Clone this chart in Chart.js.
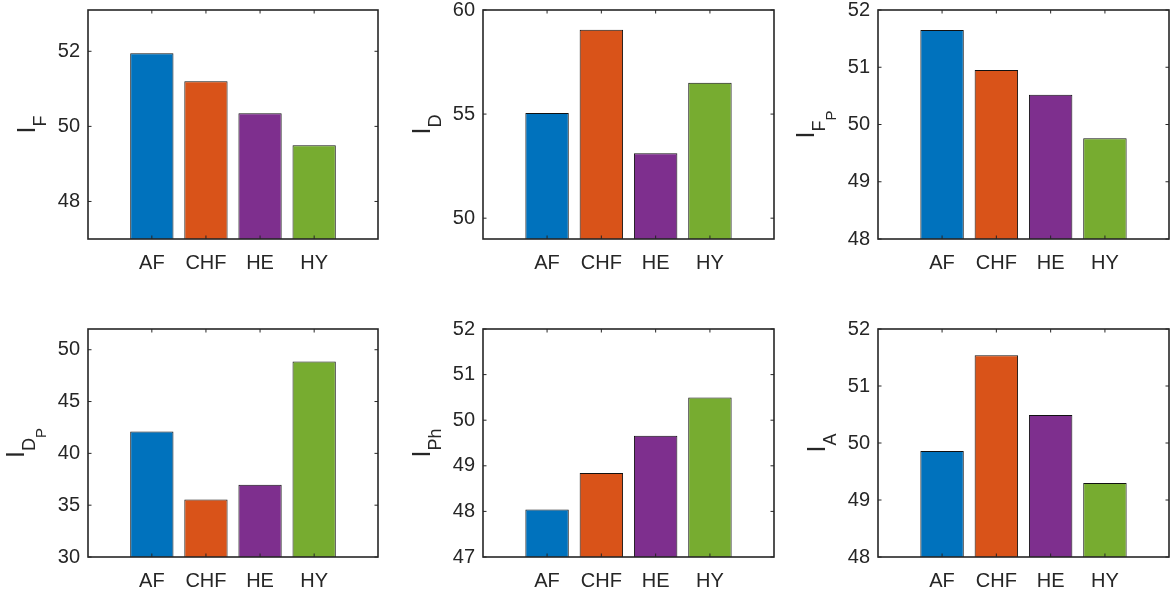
<!DOCTYPE html>
<html>
<head>
<meta charset="utf-8">
<script src="https://cdn.jsdelivr.net/npm/chart.js@4.4.1/dist/chart.umd.min.js"></script>
<style>
  body { margin: 0; background: #fff; width: 1174px; height: 595px; position: relative; overflow: hidden; }
  canvas { position: absolute; }
</style>
</head>
<body>
<canvas id="pIF"   width="390" height="290" style="left:0px;top:0px"></canvas>
<canvas id="pID"   width="391" height="290" style="left:395px;top:0px"></canvas>
<canvas id="pIFp"  width="384" height="290" style="left:790px;top:0px"></canvas>
<canvas id="pIDp"  width="390" height="295" style="left:0px;top:300px"></canvas>
<canvas id="pIPh"  width="391" height="295" style="left:395px;top:300px"></canvas>
<canvas id="pIA"   width="384" height="295" style="left:790px;top:300px"></canvas>
<script>
// categories and colours (MATLAB default order)
const categories = ['AF', 'CHF', 'HE', 'HY'];
const barColors = ['#0072BD', '#D95319', '#7E2F8E', '#77AC30'];

// values
const valsIF   = [51.95, 51.2, 50.35, 49.5];
const valsID   = [55.05, 59.05, 53.12, 56.5];
const valsIFp  = [51.65, 50.95, 50.52, 49.76];
const valsIDp  = [42.1, 35.56, 36.97, 48.87];
const valsIPh  = [48.04, 48.84, 49.66, 50.5];
const valsIA   = [49.86, 51.54, 50.49, 49.3];

// y axis limits and tick labels
const rangeIF  = [47, 53.1];  const ticksIF  = [48, 50, 52];
const rangeID  = [49, 60];    const ticksID  = [50, 55, 60];
const rangeIFp = [48, 52];    const ticksIFp = [48, 49, 50, 51, 52];
const rangeIDp = [30, 52];    const ticksIDp = [30, 35, 40, 45, 50];
const rangeIPh = [47, 52];    const ticksIPh = [47, 48, 49, 50, 51, 52];
const rangeIA  = [48, 52];    const ticksIA  = [48, 49, 50, 51, 52];

const FONT = "'Liberation Sans', Arial, sans-serif";
const INK = '#262626';

// box, inward tick marks and the I_x style y label
function boxPlugin(subs) {
  return {
    id: 'matlabBox',
    afterDraw(chart) {
      const { ctx, chartArea: a, scales: { x, y } } = chart;
      ctx.save();
      ctx.strokeStyle = INK;
      ctx.lineWidth = 1.6;
      ctx.strokeRect(a.left, a.top, a.right - a.left, a.bottom - a.top);
      ctx.lineWidth = 1;
      const t = 3.5;
      ctx.beginPath();
      x.ticks.forEach(tk => {
        const px = x.getPixelForValue(tk.value);
        ctx.moveTo(px, a.bottom); ctx.lineTo(px, a.bottom - t);
        ctx.moveTo(px, a.top); ctx.lineTo(px, a.top + t);
      });
      y.ticks.forEach(tk => {
        const py = y.getPixelForValue(tk.value);
        ctx.moveTo(a.left, py); ctx.lineTo(a.left + t, py);
        ctx.moveTo(a.right, py); ctx.lineTo(a.right - t, py);
      });
      ctx.stroke();

      // y label: "I" with nested subscripts, rotated
      const parts = ['I'].concat(subs);
      const sizes = [25, 18, 15];
      const drop = 11;
      let total = 0;
      const widths = parts.map((p, i) => {
        ctx.font = sizes[i] + 'px ' + FONT;
        const w = ctx.measureText(p).width;
        total += w;
        return w;
      });
      const lowest = a.left - 42;
      const mainBase = lowest - drop * subs.length;
      ctx.translate(mainBase, (a.top + a.bottom) / 2);
      ctx.rotate(-Math.PI / 2);
      ctx.fillStyle = INK;
      ctx.textBaseline = 'alphabetic';
      ctx.textAlign = 'left';
      let cx = -total / 2;
      parts.forEach((p, i) => {
        ctx.font = sizes[i] + 'px ' + FONT;
        ctx.fillText(p, cx, drop * i);
        cx += widths[i];
      });
      ctx.restore();
    }
  };
}

function makePanel(id, values, range, yTicks, subs, pad, xHeight) {
  new Chart(document.getElementById(id), {
    type: 'bar',
    data: {
      datasets: [{
        data: values.map((v, i) => ({ x: i + 1, y: v })),
        backgroundColor: barColors,
        borderColor: '#111',
        borderWidth: 1,
        barPercentage: 0.8,
        categoryPercentage: 1,
      }],
    },
    options: {
      responsive: false,
      animation: false,
      devicePixelRatio: 1,
      layout: { padding: { top: pad[0], right: pad[1], left: 0, bottom: 0 } },
      plugins: { legend: { display: false }, tooltip: { enabled: false } },
      scales: {
        x: {
          type: 'linear',
          min: -0.18,
          max: 5.18,
          offset: false,
          grid: { display: false, drawTicks: true, tickLength: 12 },
          border: { display: false },
          afterBuildTicks: s => { s.ticks = categories.map((c, i) => ({ value: i + 1 })); },
          afterFit: s => { s.height = xHeight; },
          ticks: {
            autoSkip: false,
            maxRotation: 0,
            padding: 0,
            color: INK,
            font: { family: FONT, size: 20, lineHeight: 1.2 },
            callback: v => categories[v - 1] || '',
          },
        },
        y: {
          min: range[0],
          max: range[1],
          grid: { display: false, drawTicks: true, tickLength: 8 },
          border: { display: false },
          afterBuildTicks: s => { s.ticks = yTicks.map(v => ({ value: v })); },
          afterFit: s => { s.width = 88; },
          ticks: {
            padding: 0,
            color: INK,
            font: { family: FONT, size: 20, lineHeight: 0.9 },
          },
        },
      },
    },
    plugins: [boxPlugin(subs)],
  });
}

makePanel('pIF',  valsIF,  rangeIF,  ticksIF,  ['F'],      [10, 12], 51);
makePanel('pID',  valsID,  rangeID,  ticksID,  ['D'],      [10, 12], 51);
makePanel('pIFp', valsIFp, rangeIFp, ticksIFp, ['F', 'P'], [10, 5],  51);
makePanel('pIDp', valsIDp, rangeIDp, ticksIDp, ['D', 'P'], [29, 12], 38);
makePanel('pIPh', valsIPh, rangeIPh, ticksIPh, ['Ph'],     [29, 12], 38);
makePanel('pIA',  valsIA,  rangeIA,  ticksIA,  ['A'],      [29, 5],  38);
</script>
</body>
</html>
